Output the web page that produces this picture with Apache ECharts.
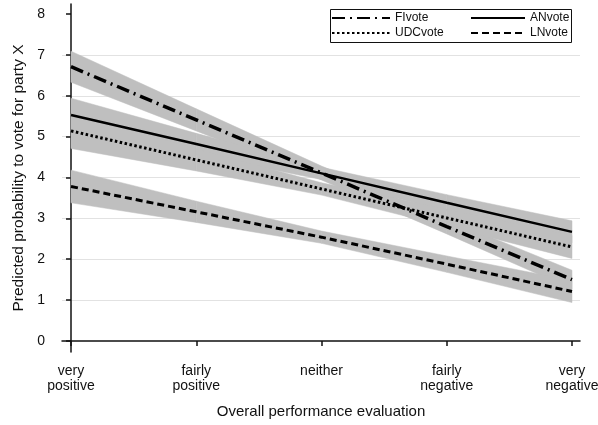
<!DOCTYPE html>
<html>
	<head>
		<meta charset="UTF-8">
		<title>Predicted probability to vote for party X</title>
		<script src="https://cdn.jsdelivr.net/npm/echarts@6/dist/echarts.min.js"></script>
		<style>
			html, body { margin: 0; padding: 0; background: #fff; }
			#chart { width: 598px; height: 425px; }
		</style>
	</head>
	<body>
		<div id="chart"></div>
		<script>
			// x categories (evaluation) and tick values
			var categories = ['very\npositive', 'fairly\npositive', 'neither', 'fairly\nnegative', 'very\nnegative'];
			var xPos = [0, 1, 2, 3, 4];
			var yTicks = [0, 1, 2, 3, 4, 5, 6, 7, 8];
			var gridTicks = [1, 2, 3, 4, 5, 6, 7];

			// predicted values and confidence bands
			var fiVote = [6.71, 5.41, 4.11, 2.80, 1.50];
			var fiLow = [6.33, 5.14, 3.94, 2.62, 1.27];
			var fiHigh = [7.09, 5.68, 4.28, 2.98, 1.73];

			var anVote = [5.53, 4.82, 4.10, 3.38, 2.67];
			var anLow = [5.13, 4.56, 3.95, 3.18, 2.40];
			var anHigh = [5.94, 5.08, 4.25, 3.58, 2.94];

			var udcVote = [5.14, 4.43, 3.72, 3.01, 2.30];
			var udcLow = [4.71, 4.16, 3.57, 2.80, 2.02];
			var udcHigh = [5.56, 4.70, 3.87, 3.22, 2.58];

			var lnVote = [3.78, 3.16, 2.54, 1.88, 1.21];
			var lnLow = [3.38, 2.90, 2.39, 1.68, 0.94];
			var lnHigh = [4.18, 3.42, 2.69, 2.08, 1.48];

			var font = 'Liberation Sans, Arial, sans-serif';

			function pairs(vals) {
				return vals.map(function (v, i) { return [xPos[i], v]; });
			}

			// band drawn as one quad per segment: [x0, lo0, hi0, x1, lo1, hi1]
			function band(key, low, high) {
				var segs = [];
				for (var i = 0; i < xPos.length - 1; i++) {
					segs.push([xPos[i], low[i], high[i], xPos[i + 1], low[i + 1], high[i + 1]]);
				}
				return {
					name: key + '_band',
					type: 'custom',
					data: segs,
					silent: true,
					z: 1,
					renderItem: function (params, api) {
						var a = api.coord([api.value(0), api.value(1)]);
						var b = api.coord([api.value(3), api.value(4)]);
						var c = api.coord([api.value(3), api.value(5)]);
						var d = api.coord([api.value(0), api.value(2)]);
						return {
							type: 'polygon',
							shape: { points: [a, b, c, d] },
							style: { fill: '#bfbfbf', stroke: '#bfbfbf', lineWidth: 0.5 }
						};
					}
				};
			}

			function line(name, vals, width, dash) {
				return {
					name: name,
					type: 'line',
					data: pairs(vals),
					symbol: 'none',
					color: '#000',
					lineStyle: { color: '#000', width: width, type: dash, cap: 'butt' },
					z: 3
				};
			}

			var series = [
				band('fi', fiLow, fiHigh),
				band('an', anLow, anHigh),
				band('udc', udcLow, udcHigh),
				band('ln', lnLow, lnHigh),
				line('FIvote', fiVote, 3.5, [13, 5, 2, 5]),
				line('ANvote', anVote, 2.5, 'solid'),
				line('UDCvote', udcVote, 3, [2.5, 2.5]),
				line('LNvote', lnVote, 3, [7, 4])
			];

			var myChart = echarts.init(document.getElementById('chart'));

			var legendBase = {
				orient: 'vertical',
				top: 12,
				padding: 0,
				itemHeight: 12,
				itemGap: 3,
				itemStyle: { opacity: 0 },
				textStyle: { fontFamily: font, fontSize: 12, lineHeight: 12, color: '#111' }
			};

			var option = {
				animation: false,
				backgroundColor: '#fff',
				textStyle: { fontFamily: font },
				grid: { left: 62, right: 18, top: 4, bottom: 73, containLabel: false, outerBoundsMode: 'none' },
				legend: [
					Object.assign({}, legendBase, { data: ['FIvote', 'UDCvote'], left: 331, itemWidth: 58 }),
					Object.assign({}, legendBase, { data: ['ANvote', 'LNvote'], left: 470, itemWidth: 54 })
				],
				graphic: [{
					type: 'rect',
					shape: { x: 330.5, y: 9.5, width: 241, height: 33 },
					style: { fill: null, stroke: '#111', lineWidth: 1 },
					silent: true,
					z: 10
				}],
				xAxis: {
					type: 'value',
					min: -0.072,
					max: 4.064,
					name: 'Overall performance evaluation',
					nameLocation: 'middle',
					nameGap: 52,
					nameTextStyle: { fontFamily: font, fontSize: 15, color: '#111' },
					axisLine: { lineStyle: { color: '#111', width: 1.5 } },
					axisTick: { customValues: xPos, length: 5, lineStyle: { color: '#111', width: 1.5 } },
					axisLabel: {
						customValues: xPos,
						margin: 12,
						fontSize: 14,
						lineHeight: 15,
						color: '#111',
						formatter: function (v) { return categories[Math.round(v)]; }
					},
					splitLine: { show: false }
				},
				yAxis: [{
					type: 'value',
					min: -0.27,
					max: 8.245,
					name: 'Predicted probability to vote for party X',
					nameLocation: 'middle',
					nameGap: 34,
					nameTextStyle: { fontFamily: font, fontSize: 15.5, color: '#111' },
					axisLine: { show: true, lineStyle: { color: '#111', width: 1.5 } },
					axisTick: { show: true, customValues: yTicks, length: 5, lineStyle: { color: '#111', width: 1.5 } },
					axisLabel: { customValues: yTicks, margin: 17, fontSize: 14, color: '#111' },
					splitLine: { show: false }
				}, {
					type: 'value',
					position: 'left',
					min: -0.27,
					max: 8.245,
					axisLine: { show: false },
					axisTick: { show: false, customValues: gridTicks },
					axisLabel: { show: false, customValues: gridTicks },
					splitLine: { show: true, lineStyle: { color: '#e2e2e2', width: 1 } }
				}],
				series: series
			};

			myChart.setOption(option);
		</script>
	</body>
</html>
